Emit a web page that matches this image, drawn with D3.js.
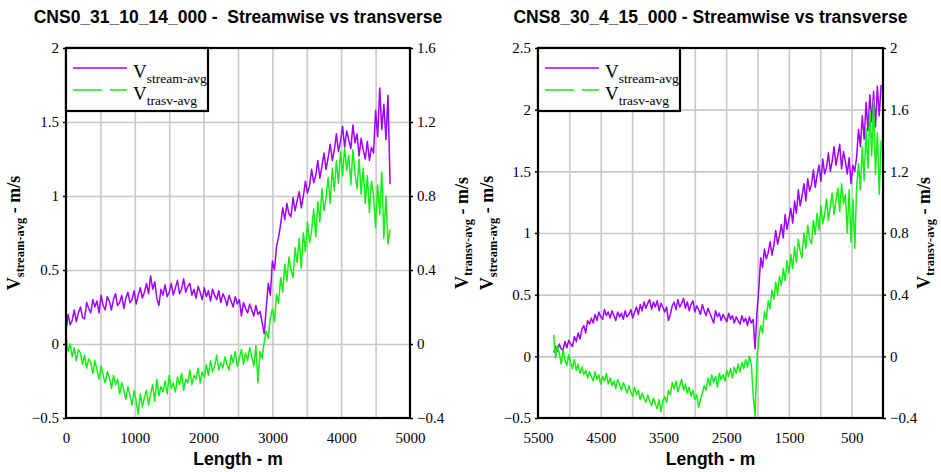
<!DOCTYPE html>
<html>
<head>
<meta charset="utf-8">
<title>Streamwise vs transverse</title>
<style>
  body { margin: 0; background: #fff; }
  svg text { fill: #000; }
</style>
</head>
<body>
<div id="container"></div>
<script src="https://d3js.org/d3.v7.min.js"></script>
<script>
// ---- data ----
// left panel: CNS0_31_10_14_000, samples every 30 m starting at 0 m
const leftTitle = "CNS0_31_10_14_000 -  Streamwise vs transverse";
const leftStart = 0, leftStep = 30;
const leftStream = [
  0.09,0.20,0.13,0.16,0.23,0.15,0.21,0.25,0.18,0.17,
  0.28,0.24,0.21,0.30,0.25,0.29,0.21,0.33,0.26,0.23,
  0.32,0.29,0.23,0.30,0.34,0.26,0.28,0.33,0.24,0.31,
  0.35,0.28,0.30,0.36,0.27,0.33,0.38,0.31,0.35,0.41,
  0.34,0.46,0.37,0.42,0.31,0.26,0.37,0.33,0.40,0.32,
  0.35,0.41,0.33,0.38,0.43,0.34,0.37,0.44,0.35,0.39,
  0.41,0.33,0.37,0.31,0.39,0.35,0.30,0.38,0.32,0.36,
  0.29,0.37,0.33,0.30,0.36,0.28,0.34,0.31,0.26,0.33,
  0.29,0.25,0.32,0.27,0.30,0.19,0.28,0.24,0.21,0.27,
  0.23,0.19,0.26,0.20,0.22,0.15,0.07,
  0.24,0.41,0.33,0.56,0.50,0.66,0.72,0.81,0.92,0.84,
  0.95,0.88,0.86,0.99,0.90,0.97,1.03,0.92,1.00,1.10,
  1.02,1.07,1.18,1.09,1.14,1.24,1.12,1.20,1.29,1.18,
  1.26,1.35,1.24,1.31,1.42,1.30,1.37,1.47,1.33,1.44,
  1.38,1.32,1.48,1.36,1.42,1.27,1.39,1.31,1.25,1.37,
  1.24,1.33,1.29,1.58,1.40,1.73,1.45,1.62,1.38,1.68,1.08
];
const leftTrasv = [
  0.05,-0.04,0.00,-0.07,-0.02,-0.09,-0.03,-0.05,-0.11,-0.06,
  -0.13,-0.08,-0.10,-0.16,-0.09,-0.14,-0.19,-0.12,-0.17,-0.21,
  -0.15,-0.18,-0.24,-0.17,-0.22,-0.19,-0.27,-0.21,-0.25,-0.30,
  -0.23,-0.28,-0.33,-0.25,-0.31,-0.38,-0.27,-0.34,-0.29,-0.25,
  -0.33,-0.27,-0.22,-0.31,-0.19,-0.28,-0.23,-0.26,-0.20,-0.27,
  -0.17,-0.24,-0.21,-0.26,-0.18,-0.22,-0.16,-0.25,-0.19,-0.21,
  -0.14,-0.22,-0.17,-0.19,-0.13,-0.21,-0.15,-0.18,-0.11,-0.17,
  -0.09,-0.15,-0.12,-0.06,-0.14,-0.10,-0.13,-0.07,-0.11,-0.14,
  -0.06,-0.10,-0.04,-0.12,-0.08,-0.03,-0.11,-0.05,-0.09,-0.02,
  -0.07,-0.12,-0.01,-0.21,-0.04,-0.08,0.01,
  0.07,0.03,0.14,0.19,0.12,0.27,0.22,0.36,0.28,0.43,
  0.34,0.47,0.40,0.36,0.52,0.44,0.57,0.41,0.60,0.50,
  0.66,0.55,0.61,0.73,0.58,0.77,0.66,0.84,0.72,0.79,
  0.90,0.76,0.95,0.83,0.99,0.87,1.04,0.91,1.06,0.94,
  1.02,0.86,1.05,0.92,0.84,1.00,0.81,0.95,0.76,0.91,
  0.71,0.88,0.80,0.63,0.86,0.70,0.93,0.57,0.80,0.54,0.62
];
const leftXTicks = [0, 1000, 2000, 3000, 4000, 5000];
const leftXGrid = [500, 1000, 1500, 2000, 2500, 3000, 3500, 4000, 4500];
const leftYTicks = [-0.5, 0, 0.5, 1, 1.5, 2];
const leftY2Ticks = [-0.4, 0, 0.4, 0.8, 1.2, 1.6];

// right panel: CNS8_30_4_15_000, samples every 30 m going down from 5250 m
const rightTitle = "CNS8_30_4_15_000 - Streamwise vs transverse";
const rightStart = 5250, rightStep = -30;
const rightStream = [
  0.03,0.08,0.04,0.10,0.06,0.05,0.12,0.07,0.13,0.10,
  0.08,0.16,0.12,0.19,0.14,0.22,0.25,0.19,0.29,0.26,
  0.31,0.27,0.34,0.29,0.36,0.32,0.30,0.38,0.33,0.36,
  0.31,0.37,0.33,0.29,0.36,0.32,0.35,0.30,0.37,0.32,
  0.34,0.38,0.31,0.36,0.40,0.34,0.42,0.37,0.44,0.39,
  0.43,0.46,0.38,0.44,0.40,0.45,0.37,0.43,0.40,0.36,
  0.40,0.29,0.34,0.41,0.44,0.38,0.46,0.40,0.43,0.47,
  0.39,0.44,0.37,0.42,0.45,0.36,0.41,0.38,0.34,0.42,
  0.37,0.33,0.39,0.35,0.31,0.27,0.37,0.32,0.35,0.29,
  0.34,0.31,0.28,0.35,0.30,0.33,0.27,0.32,0.29,0.26,
  0.33,0.28,0.31,0.25,0.32,0.27,0.30,0.06,
  0.35,0.55,0.80,0.72,0.87,0.79,0.84,0.93,0.82,0.90,
  1.02,0.91,0.98,1.07,0.96,1.15,1.03,1.11,1.20,1.08,
  1.26,1.16,1.35,1.22,1.30,1.40,1.26,1.44,1.34,1.39,
  1.51,1.37,1.47,1.55,1.42,1.60,1.48,1.53,1.65,1.50,
  1.58,1.70,1.55,1.63,1.72,1.52,1.66,1.58,1.48,1.61,
  1.40,1.55,1.50,1.62,1.84,1.70,1.95,1.76,2.06,1.83,
  2.12,1.90,2.15,1.86,2.19,1.95,2.20
];
const rightTrasv = [
  0.14,-0.01,0.07,0.02,-0.05,0.04,-0.02,-0.06,0.01,-0.04,
  -0.08,-0.02,-0.09,-0.05,-0.11,-0.07,-0.12,-0.09,-0.14,-0.10,
  -0.13,-0.16,-0.10,-0.15,-0.12,-0.18,-0.13,-0.16,-0.11,-0.18,
  -0.14,-0.19,-0.16,-0.21,-0.15,-0.18,-0.22,-0.17,-0.20,-0.24,
  -0.19,-0.23,-0.26,-0.20,-0.25,-0.22,-0.28,-0.24,-0.27,-0.30,
  -0.25,-0.29,-0.32,-0.27,-0.31,-0.34,-0.28,-0.36,-0.29,-0.26,
  -0.30,-0.22,-0.25,-0.17,-0.21,-0.16,-0.23,-0.19,-0.15,-0.22,
  -0.18,-0.24,-0.20,-0.26,-0.22,-0.28,-0.25,-0.33,-0.28,-0.24,
  -0.19,-0.22,-0.14,-0.19,-0.12,-0.17,-0.13,-0.20,-0.11,-0.15,
  -0.12,-0.16,-0.09,-0.13,-0.08,-0.14,-0.07,-0.11,-0.05,-0.10,
  -0.04,-0.08,-0.02,-0.07,0.00,-0.05,-0.25,-0.39,
  -0.02,0.12,0.20,0.15,0.29,0.24,0.36,0.31,0.43,0.37,
  0.48,0.40,0.52,0.46,0.57,0.49,0.62,0.54,0.66,0.57,
  0.71,0.61,0.76,0.68,0.64,0.80,0.70,0.85,0.76,0.73,
  0.88,0.79,0.93,0.82,0.98,0.86,0.92,1.02,0.88,0.97,
  1.06,0.92,1.01,1.09,0.94,1.12,0.99,1.05,0.80,1.08,
  0.74,1.02,0.70,1.10,1.25,1.08,1.36,1.14,1.48,1.22,
  1.60,1.30,1.66,1.18,1.45,1.05,1.40
];
const rightXTicks = [5500, 4500, 3500, 2500, 1500, 500];
const rightXGrid = [5000, 4500, 4000, 3500, 3000, 2500, 2000, 1500, 1000, 500];
const rightYTicks = [-0.5, 0, 0.5, 1, 1.5, 2, 2.5];
const rightY2Ticks = [-0.4, 0, 0.4, 0.8, 1.2, 1.6, 2];

const streamColor = "#a000ff";
const trasvColor = "#14f014";

const width = 941, height = 472;
const plotTop = 48, plotBottom = 418;

const svg = d3.create("svg")
    .attr("width", width)
    .attr("height", height);

function vLabel(g, x, sub) {
  // rotated axis title: V<sub> - m/s
  const t = g.append("text")
      .attr("transform", `translate(${x},${(plotTop + plotBottom) / 2}) rotate(-90)`)
      .attr("text-anchor", "middle")
      .attr("font-family", "Liberation Serif, Times New Roman, serif")
      .attr("font-weight", "bold")
      .attr("font-size", 18);
  t.append("tspan").text("V");
  t.append("tspan").attr("font-size", 12.5).attr("dy", 4).text(sub);
  t.append("tspan").attr("dy", -4).text(" - m/s");
}

function panel(o) {
  const g = svg.append("g");

  const x = d3.scaleLinear().domain(o.xDomain).range([o.left, o.right]);
  const y = d3.scaleLinear().domain(o.yDomain).range([plotBottom, plotTop]);
  const y2 = d3.scaleLinear().domain(o.y2Domain).range([plotBottom, plotTop]);
  const h = plotBottom - plotTop;

  // grid
  g.append("g")
      .attr("transform", `translate(0,${plotBottom})`)
      .call(d3.axisBottom(x).tickValues(o.xGrid).tickSize(-h).tickFormat(""))
      .call(a => a.select(".domain").remove())
      .call(a => a.selectAll("line").attr("stroke", "#c8c8c8").attr("stroke-width", 1.6));
  g.append("g")
      .attr("transform", `translate(${o.left},0)`)
      .call(d3.axisLeft(y).tickValues(o.yTicks.slice(1, -1)).tickSize(-(o.right - o.left)).tickFormat(""))
      .call(a => a.select(".domain").remove())
      .call(a => a.selectAll("line").attr("stroke", "#c8c8c8").attr("stroke-width", 1.6));

  // series
  const pts = (vals, start, step) => vals.map((v, i) => [start + i * step, v]);
  const clip = "clip" + o.id;
  g.append("clipPath").attr("id", clip).append("rect")
      .attr("x", o.left).attr("y", plotTop).attr("width", o.right - o.left).attr("height", h);
  const lineS = d3.line().x(d => x(d[0])).y(d => y(d[1]));
  const lineT = d3.line().x(d => x(d[0])).y(d => y2(d[1]));
  g.append("path")
      .attr("clip-path", `url(#${clip})`)
      .attr("fill", "none").attr("stroke", streamColor).attr("stroke-width", 1.5)
      .attr("stroke-linejoin", "round")
      .attr("d", lineS(pts(o.stream, o.start, o.step)));
  g.append("path")
      .attr("clip-path", `url(#${clip})`)
      .attr("fill", "none").attr("stroke", trasvColor).attr("stroke-width", 1.5)
      .attr("stroke-linejoin", "round")
      .attr("d", lineT(pts(o.trasv, o.start, o.step)));

  // axes
  const serif = "Liberation Serif, Times New Roman, serif";
  const styleAxis = a => {
    a.select(".domain").remove();
    a.selectAll("text").attr("font-family", serif).attr("font-size", 15).attr("fill", "#000");
    a.selectAll("line").attr("stroke", "#000").attr("stroke-width", 1.5);
  };
  g.append("g")
      .attr("transform", `translate(${o.left},0)`)
      .call(d3.axisLeft(y).tickValues(o.yTicks).tickSize(3).tickPadding(4).tickFormat(d3.format("")))
      .call(styleAxis);
  g.append("g")
      .attr("transform", `translate(${o.right},0)`)
      .call(d3.axisRight(y2).tickValues(o.y2Ticks).tickSize(3).tickPadding(4).tickFormat(d3.format("")))
      .call(styleAxis);
  g.append("g")
      .attr("transform", `translate(0,${plotBottom})`)
      .call(d3.axisBottom(x).tickValues(o.xTicks).tickSize(0).tickPadding(14).tickFormat(d3.format("")))
      .call(styleAxis);

  // frame
  g.append("rect")
      .attr("x", o.left).attr("y", plotTop)
      .attr("width", o.right - o.left).attr("height", h)
      .attr("fill", "none").attr("stroke", "#000").attr("stroke-width", 2.2);

  // legend
  const lg = g.append("g").attr("transform", `translate(${o.left},${plotTop})`);
  lg.append("rect").attr("width", 142).attr("height", 63)
      .attr("fill", "#fff").attr("stroke", "#000").attr("stroke-width", 2.2);
  lg.append("line").attr("x1", 7).attr("x2", 61).attr("y1", 20).attr("y2", 20)
      .attr("stroke", streamColor).attr("stroke-width", 1.3);
  lg.append("line").attr("x1", 7).attr("x2", 61).attr("y1", 42).attr("y2", 42)
      .attr("stroke", trasvColor).attr("stroke-width", 1.3).attr("stroke-dasharray", "29,8");
  [["stream-avg", 30], ["trasv-avg", 52]].forEach(([s, yy]) => {
    const t = lg.append("text").attr("x", 67).attr("y", yy)
        .attr("font-family", serif).attr("font-size", 19);
    t.append("tspan").text("V");
    t.append("tspan").attr("font-size", 13.5).attr("dy", 5).text(s);
  });

  // titles
  const cx = (o.left + o.right) / 2;
  g.append("text").attr("x", cx).attr("y", 23).attr("text-anchor", "middle")
      .attr("font-family", "Liberation Sans, Arial, sans-serif").attr("font-weight", "bold")
      .attr("font-size", 17.5).attr("xml:space", "preserve").style("white-space", "pre")
      .text(o.title);
  g.append("text").attr("x", cx).attr("y", 465).attr("text-anchor", "middle")
      .attr("font-family", "Liberation Sans, Arial, sans-serif").attr("font-weight", "bold")
      .attr("font-size", 17.5).text("Length - m");
  vLabel(g, o.leftLabelX, "stream-avg");
  vLabel(g, o.rightLabelX, "transv-avg");
}

panel({
  id: "L", title: leftTitle, left: 66, right: 410,
  xDomain: [0, 5000], yDomain: [-0.5, 2], y2Domain: [-0.4, 1.6],
  xTicks: leftXTicks, xGrid: leftXGrid, yTicks: leftYTicks, y2Ticks: leftY2Ticks,
  stream: leftStream, trasv: leftTrasv, start: leftStart, step: leftStep,
  leftLabelX: 20, rightLabelX: 468
});
panel({
  id: "R", title: rightTitle, left: 538, right: 883,
  xDomain: [5500, 0], yDomain: [-0.5, 2.5], y2Domain: [-0.4, 2],
  xTicks: rightXTicks, xGrid: rightXGrid, yTicks: rightYTicks, y2Ticks: rightY2Ticks,
  stream: rightStream, trasv: rightTrasv, start: rightStart, step: rightStep,
  leftLabelX: 493, rightLabelX: 930
});

document.getElementById("container").append(svg.node());
</script>
</body>
</html>
